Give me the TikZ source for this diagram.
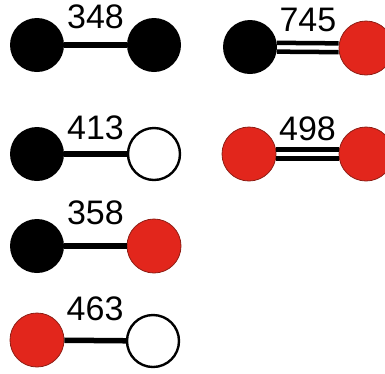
\documentclass[tikz,border=0pt]{standalone}
\usepackage{fontspec}
\setmainfont{Liberation Sans}
\definecolor{oxred}{HTML}{E2261C}
\definecolor{oxedge}{HTML}{8E1D14}
\begin{document}
\begin{tikzpicture}[x=1pt,y=-1pt]

    \tikzset{
      atom/.style={
        circle,
        inner sep=0pt,
        minimum size=54pt,
      },
      carbon/.style={atom, fill=black},
      hydrogen/.style={atom, draw=black, fill=white, line width=2.4pt, minimum size=52pt},
      oxygen/.style={atom, fill=oxred, draw=oxedge, line width=0.8pt},
      single/.style={line width=5.5pt},
      upper/.style={line width=4.5pt, transform canvas={yshift=4.4pt}},
      lower/.style={line width=4.5pt, transform canvas={yshift=-4.4pt}},
      energy/.style={inner sep=0pt, font=\fontsize{34}{34}\selectfont},
    }

	\useasboundingbox (0,0) rectangle (385,373);
	\clip (0,0) rectangle (385,373);

	% left column
	\node[carbon] (c1) at (37,45) {};
	\node[carbon] (c2) at (154,45) {};
	\node[carbon] (c3) at (37,154) {};
	\node[hydrogen] (h1) at (154,154) {};
	\node[carbon] (c4) at (37,246) {};
	\node[oxygen] (o1) at (154,246) {};
	\node[oxygen] (o2) at (37,340) {};
	\node[hydrogen] (h2) at (153,341) {};
	% right column
	\node[carbon] (c5) at (250,47) {};
	\node[oxygen] (o3) at (366,48) {};
	\node[oxygen] (o4) at (249,154) {};
	\node[oxygen] (o5) at (366,154) {};

	\draw[single] (c1) -- node[energy, above=13pt] (e1) {348} (c2);
	\draw[single] (c3) -- node[energy, above=11pt] (e2) {413} (h1);
	\draw[single] (c4) -- node[energy, above=18pt] (e3) {358} (o1);
	\draw[single] (o2) -- node[energy, above=17pt] (e4) {463} (h2);
	% double bonds
	\draw[upper] (c5) -- (o3);
	\draw[lower] (c5) -- (o3);
	\draw[upper] (o4) -- (o5);
	\draw[lower] (o4) -- (o5);
	\path (c5) -- node[energy, above=15pt] (e5) {745} (o3);
	\path (o4) -- node[energy, above=13pt] (e6) {498} (o5);

\end{tikzpicture}
\end{document}
